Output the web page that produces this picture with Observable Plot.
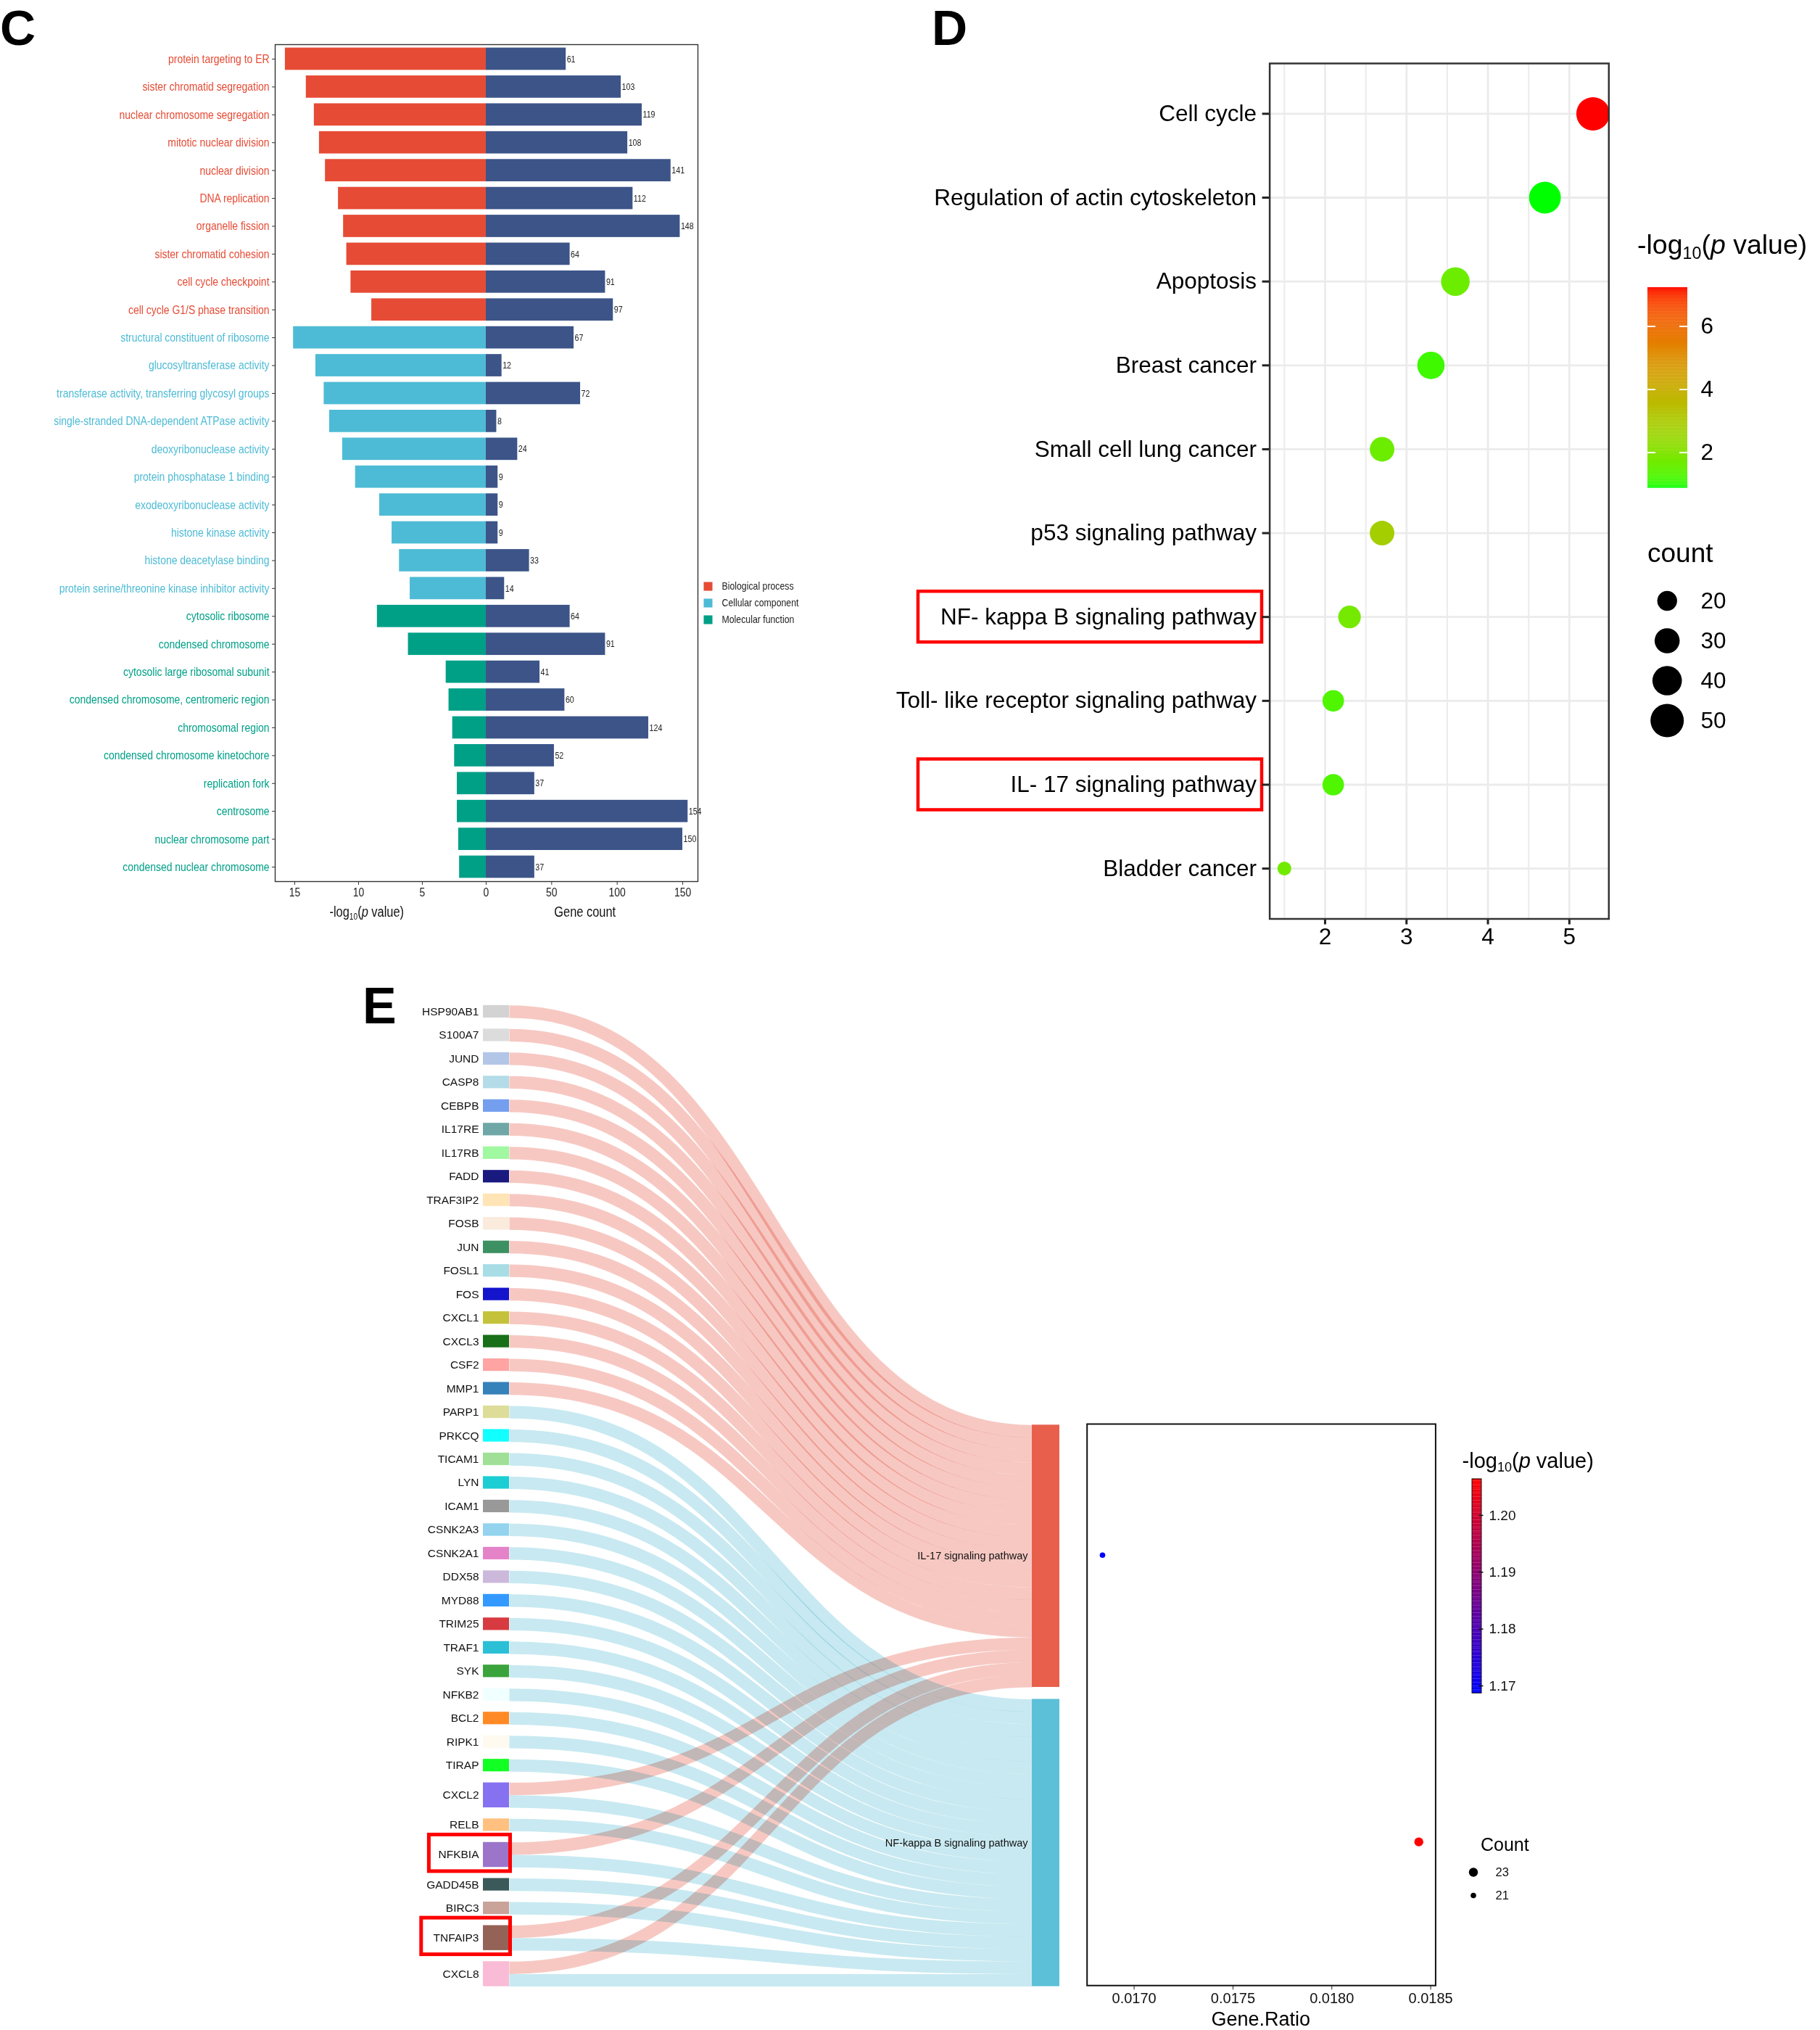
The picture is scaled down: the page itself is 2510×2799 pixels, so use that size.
<!DOCTYPE html>
<html><head><meta charset="utf-8">
<script src="https://cdn.jsdelivr.net/npm/d3@7"></script>
<script src="https://cdn.jsdelivr.net/npm/@observablehq/plot@0.6"></script>
<style>
html,body{margin:0;padding:0;background:#fff;}
#fig{position:relative;width:2510px;height:2799px;background:#fff;overflow:hidden;font-family:"Liberation Sans",Arial,sans-serif;color:#000;}
#fig svg{max-width:none !important;background:transparent !important;overflow:visible !important;}
.txt{position:absolute;white-space:nowrap;}
.txt sub{font-size:0.62em;vertical-align:baseline;position:relative;top:0.28em;}
</style></head><body><div id="fig"></div>
<script>
// ---------------- Panel C data ----------------
const goTerms = ["protein targeting to ER","sister chromatid segregation","nuclear chromosome segregation","mitotic nuclear division","nuclear division","DNA replication","organelle fission","sister chromatid cohesion","cell cycle checkpoint","cell cycle G1/S phase transition","structural constituent of ribosome","glucosyltransferase activity","transferase activity, transferring glycosyl groups","single-stranded DNA-dependent ATPase activity","deoxyribonuclease activity","protein phosphatase 1 binding","exodeoxyribonuclease activity","histone kinase activity","histone deacetylase binding","protein serine/threonine kinase inhibitor activity","cytosolic ribosome","condensed chromosome","cytosolic large ribosomal subunit","condensed chromosome, centromeric region","chromosomal region","condensed chromosome kinetochore","replication fork","centrosome","nuclear chromosome part","condensed nuclear chromosome"];
const goCategory = ["Biological process","Biological process","Biological process","Biological process","Biological process","Biological process","Biological process","Biological process","Biological process","Biological process","Cellular component","Cellular component","Cellular component","Cellular component","Cellular component","Cellular component","Cellular component","Cellular component","Cellular component","Cellular component","Molecular function","Molecular function","Molecular function","Molecular function","Molecular function","Molecular function","Molecular function","Molecular function","Molecular function","Molecular function"];
const goLogP = [15.74,14.1,13.47,13.07,12.6,11.58,11.18,10.93,10.6,8.97,15.1,13.35,12.7,12.27,11.25,10.24,8.35,7.38,6.8,5.96,8.53,6.1,3.14,2.92,2.63,2.48,2.27,2.27,2.16,2.09];
const goCount = [61,103,119,108,141,112,148,64,91,97,67,12,72,8,24,9,9,9,33,14,64,91,41,60,124,52,37,154,150,37];
const goCategories = ["Biological process","Cellular component","Molecular function"];
const goCategoryColors = ["#E64B35","#4DBBD5","#00A087"];
const logTicks = [15,10,5,0];
const countTicks = [50,100,150];

// ---------------- Panel D data ----------------
const keggPathways = ["Cell cycle","Regulation of actin cytoskeleton","Apoptosis","Breast cancer","Small cell lung cancer","p53 signaling pathway","NF- kappa B signaling pathway","Toll- like receptor signaling pathway","IL- 17 signaling pathway","Bladder cancer"];
const keggX = [5.29,4.70,3.60,3.30,2.70,2.70,2.30,2.10,2.10,1.50];
const keggLogP = [7.23,0.87,1.6,1.1,1.6,2.8,1.75,1.25,1.25,1.7];
const keggCount = [50,46,38,35,29,29,25,23,23,11];
const keggHighlight = ["NF- kappa B signaling pathway","IL- 17 signaling pathway"];
const keggXTicks = [2,3,4,5];
const keggColorTicks = [2,4,6];
const keggCountLegend = [20,30,40,50];

// ---------------- Panel E data ----------------
const il17Genes = ["HSP90AB1","S100A7","JUND","CASP8","CEBPB","IL17RE","IL17RB","FADD","TRAF3IP2","FOSB","JUN","FOSL1","FOS","CXCL1","CXCL3","CSF2","MMP1","CXCL2","NFKBIA","TNFAIP3","CXCL8"];
const nfkbGenes = ["PARP1","PRKCQ","TICAM1","LYN","ICAM1","CSNK2A3","CSNK2A1","DDX58","MYD88","TRIM25","TRAF1","SYK","NFKB2","BCL2","RIPK1","TIRAP","CXCL2","RELB","NFKBIA","GADD45B","BIRC3","TNFAIP3","CXCL8"];
const geneOrder = ["HSP90AB1","S100A7","JUND","CASP8","CEBPB","IL17RE","IL17RB","FADD","TRAF3IP2","FOSB","JUN","FOSL1","FOS","CXCL1","CXCL3","CSF2","MMP1","PARP1","PRKCQ","TICAM1","LYN","ICAM1","CSNK2A3","CSNK2A1","DDX58","MYD88","TRIM25","TRAF1","SYK","NFKB2","BCL2","RIPK1","TIRAP","CXCL2","RELB","NFKBIA","GADD45B","BIRC3","TNFAIP3","CXCL8"];
const geneColors = ["#D3D3D3","#DCDCDC","#B3C6E8","#B3DCE8","#739FEE","#6FA6A6","#A0F8A0","#191980","#FFE4B5","#FAEBDC","#3D9062","#A8DDE6","#1414CC","#C4C23A","#187018","#FFA3A3","#3581BA","#DDDD99","#11FFFF","#A0E096","#1ACED4","#999999","#93D3EE","#E583C8","#CCB8DA","#3399FF","#D73A40","#2BC0D6","#3BA33B","#F0FFFF","#FF8A25","#FFFAF0","#11FF22","#8672F0","#FFC080","#9C75CB","#3B5959","#C9A29A","#956257","#F9BBD5"];
const geneHighlight = ["NFKBIA","TNFAIP3"];
const pathwayNames = ["IL-17 signaling pathway","NF-kappa B signaling pathway"];
const pathwayNodeColors = ["#E8604C","#5BC0D8"];
const pathwayLinkColors = ["#F7C8C2","#C8E9F1"];
const pathwayCount = [21,23];
const pathwayGeneRatio = [0.01684,0.01844];
const pathwayLogP = [1.1687,1.2064];
const ratioTicks = [0.0170,0.0175,0.0180,0.0185];
const eColorTicks = [1.17,1.18,1.19,1.20];
const eCountLegend = [23,21];

// ---------------- helpers ----------------
const fig = document.getElementById("fig");
function fontAvailable(name){
  const ctx = document.createElement("canvas").getContext("2d");
  const s = "abcdefghijklmnopqrstuvwxyz ABCDEFGH 0123456789";
  ctx.font = "40px monospace"; const w1 = ctx.measureText(s).width;
  ctx.font = `40px "${name}", monospace`; const w2 = ctx.measureText(s).width;
  return Math.abs(w1 - w2) > 0.5;
}
const hasNarrow = fontAvailable("Liberation Sans Narrow");
const NARROW = hasNarrow ? '"Liberation Sans Narrow", "Liberation Sans", sans-serif' : '"Liberation Sans", Arial, sans-serif';
const SANS = '"Liberation Sans", Arial, sans-serif';
function condense(svg, f){
  if (hasNarrow) return;
  svg.querySelectorAll("text").forEach(t => {
    const w = t.getComputedTextLength();
    if (w > 0) { t.setAttribute("textLength", (w * f).toFixed(2)); t.setAttribute("lengthAdjust", "spacingAndGlyphs"); }
  });
}
function place(node, left, top, w, h){
  const d = document.createElement("div");
  d.style.cssText = `position:absolute;left:${left}px;top:${top}px;width:${w}px;height:${h}px;`;
  d.appendChild(node); fig.appendChild(d); return node;
}
function label(html, x, baseline, fs, opts = {}){
  const d = document.createElement("div");
  d.className = "txt"; d.innerHTML = html;
  const lh = 0.8 * fs;
  const top = baseline - ((lh - 1.117 * fs) / 2 + 0.905 * fs);
  let tf = [];
  if (opts.center) tf.push("translateX(-50%)");
  if (opts.narrow && !hasNarrow) tf.push("scaleX(0.82)");
  d.style.cssText = `left:${x}px;top:${top}px;font-size:${fs}px;line-height:${lh}px;font-family:${opts.narrow ? NARROW : SANS};font-weight:${opts.bold ? "bold" : "normal"};color:${opts.color || "#000"};transform:${tf.join(" ") || "none"};transform-origin:0 50%;`;
  fig.appendChild(d); return d;
}
const logHTML = '-log<sub>10</sub>(<i>p</i> value)';

// ================= Panel C =================
const pF = 17.6 / 1.807; // pixel ratio between the -log10(p) half-axis and gene-count half-axis
const goData = goTerms.map((t, i) => ({term: t, cat: goCategory[i], lp: goLogP[i], n: goCount[i]}));
const xMinC = -161, xMaxC = 161.6;
const plotC = Plot.plot({
  width: 1100, height: 1290, marginLeft: 379, marginRight: 138, marginTop: 61, marginBottom: 75,
  style: {fontFamily: NARROW, fontSize: "17px", color: "#222", background: "transparent"},
  x: {domain: [xMinC, xMaxC]},
  y: {type: "band", domain: goTerms, paddingInner: 0.2, paddingOuter: 0.12, round: false},
  color: {domain: goCategories, range: goCategoryColors},
  marks: [
    Plot.barX(goData, {y: "term", x1: 0, x2: d => -d.lp * pF, fill: "cat"}),
    Plot.barX(goData, {y: "term", x1: 0, x2: "n", fill: "#3C5488"}),
    Plot.text(goData, {y: "term", x: "n", text: d => String(d.n), textAnchor: "start", dx: 1, fontSize: 13, fill: "#222"}),
    Plot.text(goData, {y: "term", x: xMinC, text: "term", textAnchor: "end", dx: -8, fill: "cat", fontSize: 17}),
    Plot.axisY({tickSize: 4, tickFormat: () => "", label: null, stroke: "#333"}),
    Plot.axisX({ticks: [...logTicks.map(v => -v * pF), ...countTicks], tickFormat: d => d <= 0 ? String(Math.round(-d / pF)) : String(d), tickSize: 5, tickPadding: 3, label: null, fontSize: 17, stroke: "#333"}),
    Plot.frame({stroke: "#333", strokeWidth: 1.4})
  ]
});
place(plotC, 0, 0, 1100, 1290);
condense(plotC, 0.82);
label(logHTML, 517, 1264, 20, {center: true, narrow: true, color: "#111"});
label("Gene count", 816, 1264, 20, {center: true, narrow: true, color: "#111"});

// C legend
const plotCL = Plot.plot({
  width: 170, height: 80, margin: 0,
  style: {fontFamily: NARROW, fontSize: "15px", color: "#222", background: "transparent"},
  x: {domain: [0, 170], range: [0, 170], axis: null},
  y: {type: "point", domain: goCategories, range: [18, 64.6], padding: 0, axis: null},
  color: {domain: goCategories, range: goCategoryColors},
  marks: [
    Plot.dot(goCategories, {x: 16, y: d => d, symbol: "square", r: 6.8, fill: d => d}),
    Plot.text(goCategories, {x: 35, y: d => d, text: d => d, textAnchor: "start", fill: "#222"})
  ]
});
place(plotCL, 960, 790, 170, 80);
condense(plotCL, 0.82);

label("C", 0, 62, 68, {bold: true});

// ================= Panel D =================
const keggData = keggPathways.map((p, i) => ({name: p, x: keggX[i], lp: keggLogP[i], n: keggCount[i]}));
const rD = {type: "sqrt", domain: [10, 50], range: [9, 23]};
const colD = {type: "linear", domain: [0.87, 7.23], range: ["#00ff00", "#ff0000"], interpolate: "lab"};
const dLeft = 1180;
const mLD = 1750.6 - dLeft, mRD = 2510 - 2218.3, wD = 2510 - dLeft;
const plotD = Plot.plot({
  width: wD, height: 1320, marginLeft: mLD, marginRight: mRD, marginTop: 87, marginBottom: 53.5,
  style: {fontFamily: SANS, fontSize: "31.5px", color: "#000", background: "transparent"},
  x: {domain: [1.32, 5.485]},
  y: {type: "point", domain: keggPathways, padding: 0.6, round: false},
  r: rD, color: colD,
  marks: [
    Plot.gridX({ticks: [1.5, 2.5, 3.5, 4.5], stroke: "#EBEBEB", strokeOpacity: 1, strokeWidth: 2}),
    Plot.gridX({ticks: keggXTicks, stroke: "#EBEBEB", strokeOpacity: 1, strokeWidth: 2.8}),
    Plot.gridY({stroke: "#EBEBEB", strokeOpacity: 1, strokeWidth: 2.8}),
    Plot.rect(keggHighlight, {y1: d => d, y2: d => d, insetTop: -35, insetBottom: -35, insetLeft: -(1750.6 - 1266), insetRight: 2218.3 - 1740, stroke: "#FF0000", strokeWidth: 4.5, fill: "none"}),
    Plot.dot(keggData, {x: "x", y: "name", r: "n", fill: "lp"}),
    Plot.axisY({tickSize: 10, tickPadding: 8, strokeWidth: 3, stroke: "#222", label: null, fontSize: 31.5}),
    Plot.axisX({ticks: keggXTicks, tickFormat: d => String(d), tickSize: 8, tickPadding: 5, strokeWidth: 3, stroke: "#222", label: null, fontSize: 31.5}),
    Plot.frame({stroke: "#333", strokeWidth: 2.5})
  ]
});
place(plotD, dLeft, 0, wD, 1320);
label("D", 1285, 62, 68, {bold: true});

// D colour bar
const cbDn = 140;
const cbDvals = d3.range(cbDn).map(i => colD.domain[0] + (colD.domain[1] - colD.domain[0]) * i / cbDn);
const cbDstep = (colD.domain[1] - colD.domain[0]) / cbDn;
const plotDC = Plot.plot({
  width: 140, height: 276.6, margin: 0,
  style: {fontFamily: SANS, fontSize: "31.5px", color: "#000", background: "transparent"},
  x: {domain: [0, 1], range: [0, 55], axis: null},
  y: {domain: colD.domain, axis: null},
  color: colD,
  marks: [
    Plot.rect(cbDvals, {x1: 0, x2: 1, y1: d => d, y2: d => d + cbDstep * 1.05, fill: d => d}),
    Plot.ruleY(keggColorTicks, {x1: 0, x2: 0.2, stroke: "white", strokeWidth: 2}),
    Plot.ruleY(keggColorTicks, {x1: 0.8, x2: 1, stroke: "white", strokeWidth: 2}),
    Plot.text(keggColorTicks, {x: 1, y: d => d, text: d => String(d), textAnchor: "start", dx: 18})
  ]
});
place(plotDC, 2272, 396.4, 140, 276.6);
label(logHTML, 2258, 350.4, 37.5);

// D count legend
const plotDL = Plot.plot({
  width: 200, height: 240, margin: 0,
  style: {fontFamily: SANS, fontSize: "31.5px", color: "#000", background: "transparent"},
  x: {domain: [0, 200], range: [0, 200], axis: null},
  y: {type: "point", domain: keggCountLegend, range: [37.8, 203.5], padding: 0, axis: null},
  r: rD,
  marks: [
    Plot.dot(keggCountLegend, {x: 38.7, y: d => d, r: d => d, fill: "#000"}),
    Plot.text(keggCountLegend, {x: 85, y: d => d, text: d => String(d), textAnchor: "start"})
  ]
});
place(plotDL, 2260, 790, 200, 240);
label("count", 2272, 776, 37);

// ================= Panel E : Sankey =================
const gapL = 0.886, gapR = 0.958;
let yy = 0;
const eNodes = geneOrder.map((g, i) => {
  const v = (il17Genes.includes(g) ? 1 : 0) + (nfkbGenes.includes(g) ? 1 : 0);
  const n = {gene: g, y0: yy, y1: yy + v};
  yy += v + gapL; return n;
});
const totalE = yy - gapL;
let ry = totalE - (pathwayCount[0] + pathwayCount[1] + gapR);
const pNodes = pathwayNames.map((p, i) => { const n = {name: p, y0: ry, y1: ry + pathwayCount[i], i}; ry += pathwayCount[i] + gapR; return n; });
const eLinks = [];
const tOff = pNodes.map(n => n.y0);
eNodes.forEach(n => {
  let s = n.y0;
  [il17Genes, nfkbGenes].forEach((list, p) => {
    if (list.includes(n.gene)) { eLinks.push({p, ys: s + 0.5, yt: tOff[p] + 0.5}); s += 1; tOff[p] += 1; }
  });
});
const eW = 1000, eH = 1400, mTE = 25.8, mBE = 21.4, mLE = 166, mRE = 39;
const kE = (eH - mTE - mBE) / totalE;
const nodeWL = 36 / (eW - mLE - mRE), nodeWR = 38 / (eW - mLE - mRE);
const plotE = Plot.plot({
  width: eW, height: eH, marginLeft: mLE, marginRight: mRE, marginTop: mTE, marginBottom: mBE,
  style: {fontFamily: SANS, fontSize: "15.5px", color: "#111", background: "transparent"},
  x: {domain: [0, 1], axis: null},
  y: {domain: [0, totalE], reverse: true, axis: null},
  color: {domain: geneOrder, range: geneColors},
  marks: [
    ...[0, 1].map(p => Plot.link(eLinks.filter(l => l.p === p), {x1: nodeWL, x2: 1 - nodeWR, y1: "ys", y2: "yt", curve: "bump-x", stroke: pathwayLinkColors[p], strokeWidth: kE, strokeLinecap: "butt", mixBlendMode: "multiply"})),
    Plot.rect(eNodes, {x1: 0, x2: nodeWL, y1: "y0", y2: "y1", fill: "gene"}),
    ...[0, 1].map(p => Plot.rect([pNodes[p]], {x1: 1 - nodeWR, x2: 1, y1: "y0", y2: "y1", fill: pathwayNodeColors[p]})),
    Plot.text(eNodes, {x: 0, y: d => (d.y0 + d.y1) / 2, text: "gene", textAnchor: "end", dx: -6}),
    Plot.text(pNodes, {x: 1 - nodeWR, y: d => (d.y0 + d.y1) / 2, text: "name", textAnchor: "end", dx: -6, fontSize: 14.5}),
    ...geneHighlight.map(g => {
      const n = eNodes.find(d => d.gene === g);
      return Plot.rect([n], {x1: 0, x2: nodeWL, y1: d => d.y0 - 0.6, y2: d => d.y1 + 0.33, insetLeft: -(g.length * 10.6 + 11), insetRight: -1.5, stroke: "#FF0000", strokeWidth: 5, fill: "none"});
    })
  ]
});
place(plotE, 500, 1360, eW, eH);
label("E", 500, 1411.5, 70, {bold: true});

// ================= Panel E : dot plot =================
const eDots = pNodes.map((n, i) => ({name: n.name, yc: (n.y0 + n.y1) / 2, ratio: pathwayGeneRatio[i], lp: pathwayLogP[i], n: pathwayCount[i]}));
const rE = {type: "sqrt", domain: [21, 23], range: [3.8, 6.2]};
const colE = {type: "linear", domain: [1.16869, 1.20637], range: ["#0000ff", "#ff0000"], interpolate: "rgb"};
const plotE2 = Plot.plot({
  width: 600, height: 899, marginLeft: 48.7, marginRight: 70.6, marginTop: 63, marginBottom: 61.8,
  style: {fontFamily: SANS, fontSize: "20px", color: "#111", background: "transparent"},
  x: {domain: [0.016762, 0.018525]},
  y: {domain: [pNodes[0].y0, pNodes[1].y1], reverse: true, axis: null},
  r: rE, color: colE,
  marks: [
    Plot.dot(eDots, {x: "ratio", y: "yc", r: "n", fill: "lp"}),
    Plot.axisX({ticks: ratioTicks, tickFormat: d3.format(".4f"), tickSize: 6, tickPadding: 4, label: null, fontSize: 20, stroke: "#222"}),
    Plot.frame({stroke: "#111", strokeWidth: 2})
  ]
});
place(plotE2, 1450, 1900, 600, 899);
label("Gene.Ratio", 1738.7, 2794.5, 27, {center: true});

// E colour bar
const cbEn = 120;
const cbEvals = d3.range(cbEn).map(i => colE.domain[0] + (colE.domain[1] - colE.domain[0]) * i / cbEn);
const cbEstep = (colE.domain[1] - colE.domain[0]) / cbEn;
const plotEC = Plot.plot({
  width: 120, height: 295.3, margin: 0,
  style: {fontFamily: SANS, fontSize: "19px", color: "#111", background: "transparent"},
  x: {domain: [0, 1], range: [0, 14.8], axis: null},
  y: {domain: colE.domain, axis: null},
  color: colE,
  marks: [
    Plot.rect(cbEvals, {x1: 0, x2: 1, y1: d => d, y2: d => d + cbEstep * 1.05, fill: d => d}),
    Plot.rect([0], {x1: 0, x2: 1, y1: colE.domain[0], y2: colE.domain[1], stroke: "#111", strokeWidth: 1, fill: "none"}),
    Plot.tickY(eColorTicks, {y: d => d, x: 1, stroke: "#111", strokeWidth: 1.5, dx: 2.5}),
    Plot.text(eColorTicks, {x: 1, y: d => d, text: d => d.toFixed(2), textAnchor: "start", dx: 13})
  ]
});
place(plotEC, 2028.8, 2039.3, 120, 295.3);
label(logHTML, 2016.6, 2025, 29);

// E count legend
const plotEL = Plot.plot({
  width: 100, height: 75, margin: 0,
  style: {fontFamily: SANS, fontSize: "16.5px", color: "#111", background: "transparent"},
  x: {domain: [0, 100], range: [0, 100], axis: null},
  y: {type: "point", domain: eCountLegend, range: [20.6, 52.7], padding: 0, axis: null},
  r: rE,
  marks: [
    Plot.dot(eCountLegend, {x: 21.5, y: d => d, r: d => d, fill: "#000"}),
    Plot.text(eCountLegend, {x: 52, y: d => d, text: d => String(d), textAnchor: "start"})
  ]
});
place(plotEL, 2010, 2560, 100, 75);
label("Count", 2042, 2552, 25);
</script></body></html>
